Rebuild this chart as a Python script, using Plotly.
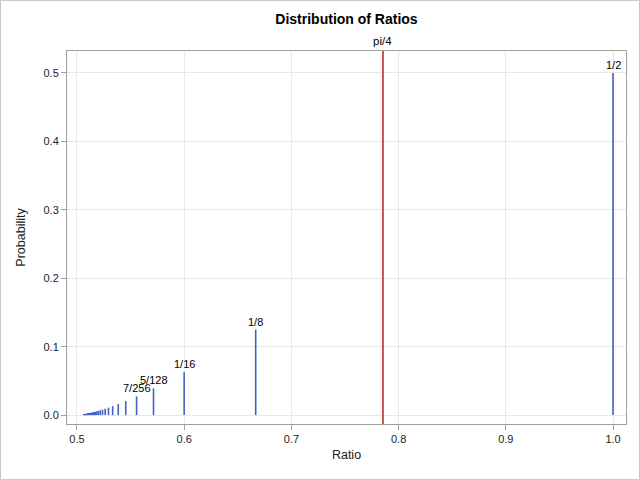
import plotly.graph_objects as go
import math

# Ratio values n/(2n-1) and their probabilities
ratios = [1.0, 0.6667, 0.6, 0.5714, 0.5556, 0.5455, 0.5385, 0.5333, 0.5294, 0.5263,
          0.5238, 0.5217, 0.5200, 0.5185, 0.5172, 0.5161, 0.5152, 0.5143, 0.5135, 0.5128,
          0.5122, 0.5116, 0.5111, 0.5106, 0.5102, 0.5098, 0.5094, 0.5091, 0.5088, 0.5085,
          0.5082, 0.5079, 0.5077, 0.5075, 0.5072, 0.5070, 0.5068, 0.5067, 0.5065, 0.5063]
probs = [0.5, 0.125, 0.0625, 0.0390625, 0.02734375, 0.0205078, 0.0161133, 0.0130920, 0.0109100, 0.0092735,
         0.0080089, 0.0070078, 0.0061992, 0.0055350, 0.0049815, 0.0045145, 0.0041162, 0.0037732, 0.0034753, 0.0032147,
         0.0029851, 0.0027816, 0.0026002, 0.0024377, 0.0022914, 0.0021592, 0.0020392, 0.0019300, 0.0018302, 0.0017387,
         0.0016546, 0.0015770, 0.0015053, 0.0014389, 0.0013772, 0.0013198, 0.0012663, 0.0012163, 0.0011695, 0.0011257]
label_names = ["1/2", "1/8", "1/16", "5/128", "7/256"]
ref_value = math.pi / 4
ref_label = "pi/4"

x_ticks = [0.5, 0.6, 0.7, 0.8, 0.9, 1.0]
y_ticks = [0.0, 0.1, 0.2, 0.3, 0.4, 0.5]

blue = "#3F63C0"
red = "#C8554E"
FONT = "Liberation Sans, Arial, sans-serif"

xs, ys = [], []
for r, p in zip(ratios, probs):
    xs += [r, r, None]
    ys += [0, p, None]

fig = go.Figure()
fig.add_trace(go.Scatter(x=xs, y=ys, mode="lines",
                         line=dict(color=blue, width=1.6),
                         hoverinfo="skip", showlegend=False))

fig.add_vline(x=ref_value, line=dict(color=red, width=2))
fig.add_annotation(x=ref_value, y=1, xref="x", yref="paper", text=ref_label,
                   showarrow=False, yanchor="bottom", yshift=2,
                   font=dict(family=FONT, size=11.5, color="#000"))

for name, r, p in zip(label_names, ratios, probs):
    fig.add_annotation(x=r, y=p, text=name, showarrow=False, yanchor="bottom",
                       yshift=0, font=dict(family=FONT, size=11, color="#000"))

# outer image border
pl, pr, pt, pb = 67, 14, 51, 56
W, H = 640, 480
pw, ph = W - pl - pr, H - pt - pb
fig.add_shape(type="rect", xref="paper", yref="paper",
              x0=-(pl - 0.5) / pw, x1=1 + (pr - 0.5) / pw,
              y0=-(pb - 0.5) / ph, y1=1 + (pt - 0.5) / ph,
              line=dict(color="#C8C8C8", width=1), layer="above")

axis_common = dict(showgrid=True, gridcolor="#E8E8E8", gridwidth=1,
                   showline=True, linecolor="#A0A0A0", linewidth=1, mirror=True,
                   ticks="outside", ticklen=5, tickcolor="#A0A0A0",
                   tickfont=dict(family=FONT, size=11, color="#222"),
                   zeroline=False)

fig.update_layout(
    width=W, height=H,
    margin=dict(l=pl, r=pr, t=pt, b=pb),
    paper_bgcolor="white", plot_bgcolor="white",
    title=dict(text="<b>Distribution of Ratios</b>", x=0.5, xanchor="center",
               xref="paper", y=1 - 19 / H, yanchor="middle",
               font=dict(family=FONT, size=14, color="#000")),
    xaxis=dict(range=[0.4907, 1.0121], tickvals=x_ticks,
               ticktext=[f"{v:.1f}" for v in x_ticks],
               title=dict(text="Ratio", font=dict(family=FONT, size=12.5, color="#222"), standoff=6),
               **axis_common),
    yaxis=dict(range=[-0.013, 0.532], tickvals=y_ticks,
               ticktext=[f"{v:.1f}" for v in y_ticks],
               title=dict(text="Probability", font=dict(family=FONT, size=12.5, color="#222"), standoff=15),
               **axis_common),
)

fig.write_html("out.html", config={"displayModeBar": False},
               post_script="document.body.style.margin='0';document.body.style.overflow='hidden';")
